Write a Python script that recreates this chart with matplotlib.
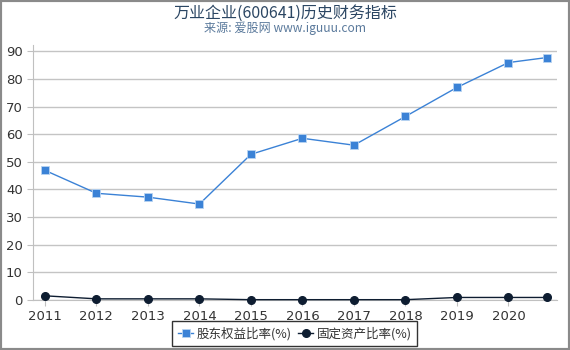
import matplotlib
matplotlib.use("Agg")
import matplotlib.pyplot as plt
from matplotlib.patches import Rectangle

plt.rcParams['font.family'] = ['DejaVu Sans', 'Noto Sans CJK SC']

# data
years  = [2011, 2012, 2013, 2014, 2015, 2016, 2017, 2018, 2019, 2020, 2020.74]
equity = [46.9, 38.6, 37.2, 34.7, 52.7, 58.5, 56.0, 66.4, 76.9, 85.9, 87.7]
fixed  = [1.5, 0.4, 0.4, 0.4, 0.1, 0.1, 0.1, 0.1, 0.9, 0.9, 0.9]
tick_years = [2011, 2012, 2013, 2014, 2015, 2016, 2017, 2018, 2019, 2020]
y_ticks = [0, 10, 20, 30, 40, 50, 60, 70, 80, 90]

title    = "万业企业(600641)历史财务指标"
subtitle = "来源: 爱股网 www.iguuu.com"
name_eq  = "股东权益比率(%)"
name_fx  = "固定资产比率(%)"

fig = plt.figure(figsize=(5.7, 3.5), dpi=100)
ax = fig.add_axes([0.058, 0.143, 0.919, 0.728])

ax.plot(years, equity, color="#3b82d6", lw=1, marker="s", ms=5.5,
        markeredgecolor="#b8d4f2", markeredgewidth=0.6, label=name_eq, clip_on=False, zorder=3)
ax.plot(years, fixed, color="#0e1d31", lw=1, marker="o", ms=5.5,
        label=name_fx, clip_on=False, zorder=4)

ax.set_xlim(2010.77, 2020.94)
ax.set_ylim(0, 92.2)
ax.set_xticks(tick_years)
ax.set_xticklabels([str(y) for y in tick_years])
ax.set_yticks(y_ticks)
ax.grid(axis="y", color="#c4c4c4", lw=1)
ax.set_axisbelow(True)
for s in ["top", "right"]:
    ax.spines[s].set_visible(False)
ax.spines["left"].set_color("#c0c0c0")
ax.spines["bottom"].set_color("#c0c0c0")
ax.tick_params(axis="both", colors="#c0c0c0", labelcolor="#333333", labelsize=9.5, length=4)

leg = ax.legend(loc="upper center", bbox_to_anchor=(0.5, -0.06), ncol=2, frameon=True,
                fancybox=False, edgecolor="black", handlelength=1.2,
                handletextpad=0.3, columnspacing=0.5, borderpad=0.45,
                prop={"family": ["Noto Sans CJK SC", "DejaVu Sans"], "size": 9})
leg.get_frame().set_linewidth(1)
for t in leg.get_texts():
    t.set_color("#333333")

fig.text(0.5, 0.963, title, ha="center", va="center", fontsize=11.5, color="#2b4663",
         family=["Noto Sans CJK SC", "DejaVu Sans"])
fig.text(0.5, 0.918, subtitle, ha="center", va="center", fontsize=8.7, color="#5b7a9c",
         family=["Noto Sans CJK SC", "DejaVu Sans"])

fig.patches.append(Rectangle((0, 0), 1, 1, transform=fig.transFigure, fill=False,
                             edgecolor="#8a8a8a", lw=3))

fig.savefig("out.png", dpi=100)
